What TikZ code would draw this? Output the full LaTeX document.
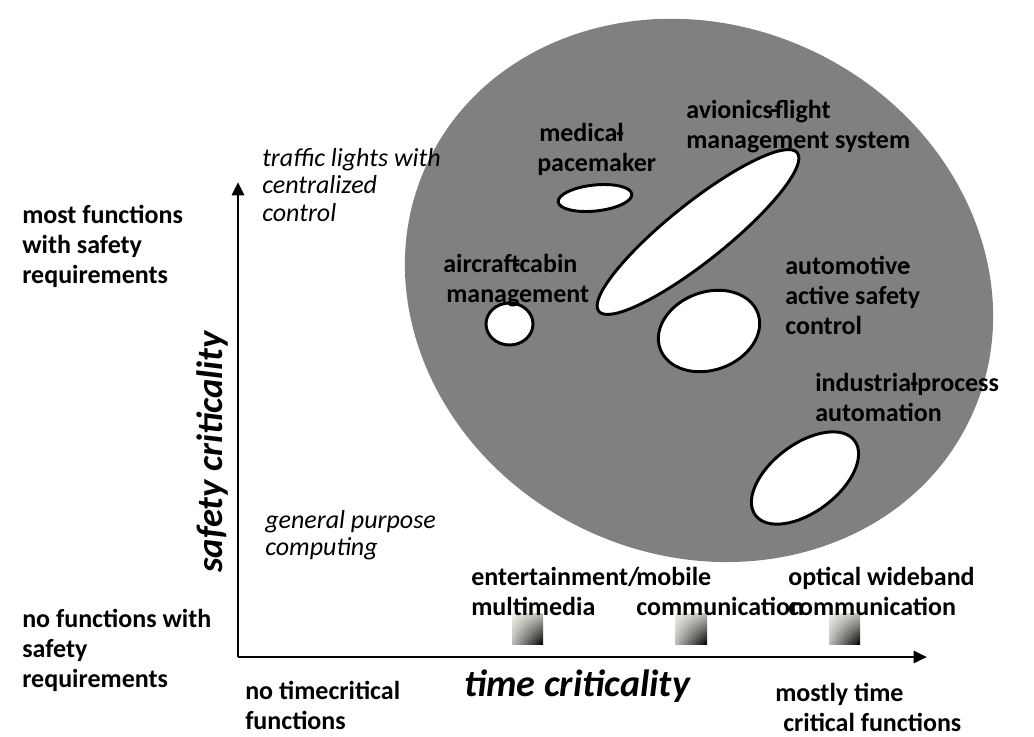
\documentclass[tikz,border=0pt]{standalone}
\usepackage{fontspec}
\setmainfont{Carlito}
\usetikzlibrary{arrows.meta,shadings}
\definecolor{bggray}{RGB}{128,128,128}
\definecolor{ivory}{RGB}{240,238,228}
\definecolor{midg}{RGB}{190,190,185}
\begin{document}
\begin{tikzpicture}[x=0.75pt,y=-0.75pt,
  lbl/.style={font=\bfseries\fontsize{19.5}{22.5}\selectfont, align=left, inner sep=0pt, anchor=west},
  ilbl/.style={font=\itshape\fontsize{19.5}{20.5}\selectfont, align=left, inner sep=0pt, anchor=west},
  hole/.style={fill=white, draw=black, line width=2.2pt},
  axisline/.style={line width=2.2pt, -{Triangle[length=10pt,width=9pt]}},
  grad/.style={upper left=ivory, upper right=midg, lower left=midg, lower right=black}]
\useasboundingbox (0,0) rectangle (1034,736);
% big gray region
\fill[bggray, rotate around={-25:(699,290.4)}] (699,290.4) ellipse [x radius=300, y radius=265];
% holes
\draw[hole, rotate around={38.6:(698,232)}] (698,232) ellipse [x radius=127, y radius=29];
\draw[hole, rotate around={6:(595,198)}] (595,198) ellipse [x radius=37, y radius=13];
\draw[hole] (509.5,324) ellipse [x radius=23.5, y radius=21];
\draw[hole, rotate around={20:(709,331)}] (709,331) ellipse [x radius=52, y radius=39];
\draw[hole, rotate around={37:(805,478)}] (805,478) ellipse [x radius=62, y radius=34];
% axes
\coordinate (o) at (238,657);
\coordinate (ytip) at (238,182);
\coordinate (xtip) at (927,657);
\draw[axisline] (o) -- (ytip);
\draw[axisline] (o) -- (xtip);
% gradient squares
\shade[grad] (512,613) rectangle (543,644);
\shade[grad] (675,613) rectangle (707,644);
\shade[grad] (829,613) rectangle (860,644);
% axis titles
\node[font=\bfseries\itshape\fontsize{27.5}{30}\selectfont, rotate=90, inner sep=0pt] (ylab) at (213,452) {safety criticality};
\node[font=\bfseries\itshape\fontsize{28.5}{30}\selectfont, inner sep=0pt] (xlab) at (577,686) {time criticality};
% left labels
\node[lbl] (most) at (22,246) {most functions\\with safety\\requirements};
\node[lbl] (nof) at (22,650) {no functions with\\safety\\requirements};
\node[lbl] (notime) at (245,705) {no timecritical\\functions};
\node[lbl, align=left] (mostly) at (775,707) {mostly time\\\hspace*{6pt}critical functions};
% italic labels
\node[ilbl] (traffic) at (262,185) {traffic lights with\\centralized\\control};
\node[ilbl] (general) at (265,535) {general purpose\\computing};
% application labels
\node[lbl] (medical) at (537,149) {\hspace*{1.5pt}medical\kern-.3em-\\pacemaker};
\node[lbl] (avionics) at (686,127) {avionics\kern-.12em-\kern-.12em flight\\management system};
\node[lbl] (cabin) at (443,281) {aircraft\kern-.3em-\kern-.03em cabin\\\hspace*{2.25pt}management};
\node[lbl] (auto) at (785,295) {automotive\kern-.3em-\\active safety\\control};
\node[lbl] (indus) at (815,397) {industrial\kern-.28em-\kern-.03em process\\automation};
\node[lbl] (ent) at (471,591) {entertainment/\\multimedia};
\node[lbl] (mob) at (636,591) {mobile\\communication};
\node[lbl] (opt) at (788,591) {optical wideband\\communication};
\end{tikzpicture}
\end{document}
